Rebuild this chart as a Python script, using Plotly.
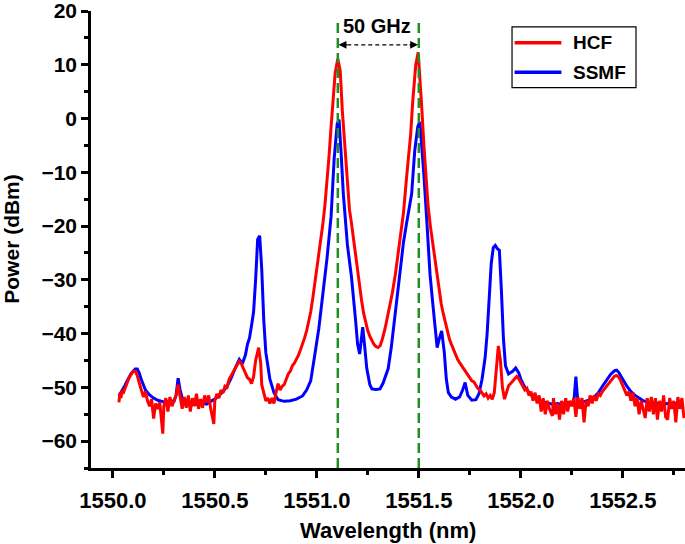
import plotly.graph_objects as go

# ---- data ----
ssmf_wl = [1550.03, 1550.04, 1550.05, 1550.06, 1550.07, 1550.08, 1550.09, 1550.10, 1550.11, 1550.12,
           1550.13, 1550.14, 1550.15, 1550.16, 1550.18, 1550.20, 1550.22, 1550.24, 1550.26, 1550.28,
           1550.30, 1550.31, 1550.32, 1550.33, 1550.34, 1550.36, 1550.38, 1550.40, 1550.42, 1550.44,
           1550.46, 1550.48, 1550.50, 1550.52, 1550.54, 1550.56, 1550.58, 1550.60, 1550.62, 1550.635,
           1550.65, 1550.66, 1550.67, 1550.68, 1550.69, 1550.70, 1550.71, 1550.72, 1550.73, 1550.74,
           1550.75, 1550.76, 1550.77, 1550.79, 1550.81, 1550.84, 1550.87, 1550.90, 1550.93, 1550.95,
           1550.97, 1550.99, 1551.01, 1551.03, 1551.05, 1551.07, 1551.085, 1551.10, 1551.109, 1551.12,
           1551.13, 1551.15, 1551.17, 1551.19, 1551.20, 1551.21, 1551.225, 1551.235, 1551.245, 1551.26,
           1551.27, 1551.29, 1551.31, 1551.325, 1551.34, 1551.35, 1551.365, 1551.385, 1551.405, 1551.425,
           1551.44, 1551.465, 1551.48, 1551.495, 1551.505, 1551.515, 1551.525, 1551.54, 1551.555, 1551.57,
           1551.58, 1551.59, 1551.60, 1551.612, 1551.625, 1551.635, 1551.645, 1551.66, 1551.68, 1551.70,
           1551.715, 1551.727, 1551.74, 1551.76, 1551.78, 1551.795, 1551.81, 1551.825, 1551.835, 1551.845,
           1551.855, 1551.865, 1551.875, 1551.885, 1551.895, 1551.905, 1551.915, 1551.925, 1551.94, 1551.96,
           1551.975, 1551.99, 1552.00, 1552.02, 1552.04, 1552.06, 1552.08, 1552.10, 1552.12, 1552.14,
           1552.16, 1552.18, 1552.20, 1552.22, 1552.24, 1552.26, 1552.27, 1552.275, 1552.28, 1552.30,
           1552.32, 1552.34, 1552.36, 1552.38, 1552.40, 1552.42, 1552.44, 1552.46, 1552.47, 1552.48,
           1552.50, 1552.52, 1552.54, 1552.56, 1552.58, 1552.60, 1552.62, 1552.64, 1552.66, 1552.68,
           1552.70, 1552.72, 1552.74, 1552.76, 1552.78, 1552.80]
ssmf_dbm = [-51.6, -51.0, -50.4, -49.6, -48.8, -48.0, -47.4, -47.0, -46.6, -46.6,
            -47.4, -48.6, -49.6, -50.5, -51.4, -52.0, -52.4, -52.6, -52.8, -52.5,
            -52.6, -51.5, -48.3, -50.5, -52.0, -52.8, -53.2, -53.0, -53.3, -52.9,
            -53.1, -52.6, -52.2, -51.5, -50.8, -49.8, -48.3, -46.4, -44.8, -45.6,
            -44.0, -42.0, -40.8, -38.5, -36.0, -30.0, -22.5, -21.8, -28.0, -37.5,
            -43.5, -46.0, -48.5, -51.0, -52.3, -52.6, -52.5, -52.2, -51.6, -50.5,
            -48.8, -44.0, -39.0, -32.5, -26.0, -18.2, -7.5, -1.0, -0.2, -7.0,
            -14.0, -23.5, -29.5, -37.5, -42.0, -43.8, -38.8, -42.5, -46.5, -49.5,
            -50.3, -50.4, -50.3, -49.2, -47.4, -46.5, -42.6, -36.3, -29.0, -23.0,
            -19.5, -14.0, -6.0, -1.5, -0.6, -5.0, -10.5, -19.5, -29.0, -35.0,
            -39.5, -42.6, -41.0, -39.5, -43.5, -48.5, -51.0, -51.8, -52.2, -51.8,
            -50.5, -49.1, -51.5, -52.4, -52.3, -51.2, -48.5, -44.5, -40.0, -33.0,
            -27.0, -24.0, -23.6, -24.2, -24.5, -32.0, -41.0, -46.0, -47.5, -47.0,
            -46.4, -47.3, -48.5, -50.0, -51.0, -51.8, -52.3, -52.6, -52.8, -53.0,
            -53.2, -53.0, -53.2, -52.8, -52.9, -52.8, -48.0, -50.5, -52.6, -52.8,
            -52.6, -52.3, -51.8, -51.0, -49.8, -48.6, -47.6, -46.9, -46.8, -47.2,
            -48.5, -49.8, -50.8, -51.5, -52.0, -52.5, -52.7, -52.8, -53.0, -52.9,
            -53.1, -53.0, -53.2, -53.0, -53.1, -53.0]

hcf_wl = [1550.03, 1550.035, 1550.04, 1550.045, 1550.05, 1550.06, 1550.07, 1550.08, 1550.09, 1550.10,
          1550.11, 1550.12, 1550.13, 1550.14, 1550.15, 1550.16, 1550.17, 1550.18, 1550.19, 1550.20,
          1550.21, 1550.22, 1550.23, 1550.245, 1550.25, 1550.26, 1550.27, 1550.28, 1550.29, 1550.30,
          1550.31, 1550.32, 1550.33, 1550.34, 1550.35, 1550.36, 1550.37, 1550.38, 1550.39, 1550.40,
          1550.41, 1550.42, 1550.43, 1550.44, 1550.45, 1550.46, 1550.47, 1550.48, 1550.495, 1550.50,
          1550.51, 1550.52, 1550.53, 1550.54, 1550.55, 1550.56, 1550.57, 1550.58, 1550.59, 1550.60,
          1550.61, 1550.62, 1550.63, 1550.64, 1550.65, 1550.66, 1550.67, 1550.68, 1550.69, 1550.70,
          1550.715, 1550.725, 1550.73, 1550.74, 1550.75, 1550.76, 1550.77, 1550.78, 1550.79, 1550.80,
          1550.81, 1550.82, 1550.83, 1550.84, 1550.85, 1550.86, 1550.87, 1550.88, 1550.89, 1550.90,
          1550.91, 1550.92, 1550.93, 1550.94, 1550.95, 1550.96, 1550.97, 1550.98, 1550.99, 1551.00,
          1551.01, 1551.02, 1551.03, 1551.04, 1551.05, 1551.06, 1551.07, 1551.08, 1551.09, 1551.103,
          1551.115, 1551.125, 1551.135, 1551.145, 1551.16, 1551.17, 1551.18, 1551.19, 1551.20, 1551.21,
          1551.22, 1551.23, 1551.24, 1551.25, 1551.26, 1551.27, 1551.28, 1551.29, 1551.30, 1551.31,
          1551.32, 1551.335, 1551.35, 1551.37, 1551.385, 1551.40, 1551.415, 1551.425, 1551.44, 1551.45,
          1551.46, 1551.47, 1551.485, 1551.497, 1551.505, 1551.514, 1551.525, 1551.536, 1551.545, 1551.557,
          1551.57, 1551.58, 1551.59, 1551.60, 1551.61, 1551.62, 1551.63, 1551.64, 1551.65, 1551.66,
          1551.67, 1551.68, 1551.69, 1551.70, 1551.71, 1551.72, 1551.73, 1551.74, 1551.75, 1551.76,
          1551.77, 1551.78, 1551.79, 1551.80, 1551.81, 1551.82, 1551.83, 1551.84, 1551.85, 1551.86,
          1551.87, 1551.88, 1551.89, 1551.90, 1551.91, 1551.92, 1551.93, 1551.94, 1551.95, 1551.96,
          1551.97, 1551.98, 1551.99, 1552.00, 1552.01, 1552.02, 1552.03, 1552.04, 1552.05, 1552.06,
          1552.07, 1552.08, 1552.09, 1552.10, 1552.11, 1552.12, 1552.13, 1552.14, 1552.155, 1552.16,
          1552.17, 1552.18, 1552.19, 1552.20, 1552.21, 1552.22, 1552.23, 1552.24, 1552.25, 1552.26,
          1552.27, 1552.28, 1552.29, 1552.30, 1552.31, 1552.32, 1552.33, 1552.34, 1552.35, 1552.36,
          1552.37, 1552.38, 1552.39, 1552.40, 1552.41, 1552.42, 1552.43, 1552.44, 1552.45, 1552.46,
          1552.47, 1552.48, 1552.49, 1552.50, 1552.51, 1552.52, 1552.53, 1552.54, 1552.55, 1552.56,
          1552.57, 1552.58, 1552.59, 1552.60, 1552.61, 1552.62, 1552.63, 1552.64, 1552.65, 1552.66,
          1552.67, 1552.68, 1552.69, 1552.70, 1552.71, 1552.72, 1552.73, 1552.74, 1552.75, 1552.76,
          1552.77, 1552.78, 1552.79, 1552.80]
hcf_dbm = [-52.8, -51.0, -52.0, -50.5, -51.2, -50.0, -49.2, -48.2, -47.6, -47.0,
           -47.0, -47.8, -49.2, -50.5, -51.8, -50.8, -52.5, -53.5, -52.2, -55.8,
           -53.0, -54.0, -52.8, -58.6, -53.5, -52.0, -54.5, -51.8, -53.5, -52.5,
           -51.5, -49.5, -52.0, -54.0, -51.8, -53.8, -51.5, -54.5, -52.0, -53.5,
           -51.2, -54.0, -52.2, -53.8, -51.5, -52.8, -51.5, -54.0, -56.8, -52.5,
           -51.2, -52.0, -50.5, -51.0, -49.8, -50.0, -48.5, -47.8, -47.0, -46.5,
           -45.8, -45.2, -45.6, -46.5, -47.5, -48.2, -48.5, -49.3, -48.0, -45.0,
           -42.6, -45.5, -49.5, -51.0, -52.5, -52.0, -53.0, -52.0, -53.0, -51.0,
           -49.3, -50.5, -49.8, -49.5, -48.5, -47.5, -47.0, -46.0, -45.5, -44.8,
           -44.0, -43.0, -42.0, -40.8, -39.5, -38.0, -36.0, -33.5, -30.8, -28.0,
           -25.2, -22.5, -19.5, -16.0, -12.0, -7.0, -1.5, 4.0, 8.5, 11.1,
           8.8, 1.5, -4.0, -8.0, -16.9, -19.5, -22.5, -25.5, -28.5, -31.5,
           -34.0, -36.3, -38.0, -39.5, -40.5, -41.3, -42.0, -42.4, -42.6, -42.3,
           -41.2, -39.0, -36.3, -32.5, -29.0, -25.0, -20.5, -17.5, -11.0, -7.4,
           -3.0, 3.0, 10.0, 12.3, 8.0, 2.3, -5.0, -11.8, -16.0, -20.1,
           -23.5, -26.5, -29.5, -32.0, -34.5, -36.3, -38.0, -39.5, -41.0, -42.0,
           -43.0, -44.0, -44.8, -45.4, -46.0, -46.6, -47.2, -47.8, -48.3, -48.8,
           -49.0, -49.6, -50.2, -50.5, -51.0, -51.6, -51.2, -52.0, -51.5, -52.2,
           -51.0, -46.5, -42.3, -45.0, -50.0, -52.2, -51.0, -49.7, -49.3, -48.8,
           -48.3, -48.0, -48.4, -49.0, -49.8, -50.5, -50.2, -51.5, -50.8, -52.5,
           -51.0, -53.0, -51.5, -54.5, -52.0, -55.0, -52.5, -54.0, -55.3, -52.0,
           -55.0, -53.0, -56.0, -52.5, -55.0, -52.0, -54.5, -52.5, -53.5, -52.0,
           -55.5, -51.8, -54.0, -52.0, -56.5, -52.5, -53.5, -51.5, -53.0, -51.5,
           -52.5, -51.2, -51.5, -50.8, -50.3, -49.8, -49.2, -48.7, -48.2, -47.9,
           -47.8, -48.1, -48.8, -49.6, -50.4, -51.5, -50.8, -52.5, -51.0, -53.5,
           -52.0, -55.0, -52.5, -54.0, -55.7, -52.0, -54.5, -51.8, -55.0, -52.0,
           -56.0, -52.5, -54.5, -51.5, -55.5, -56.0, -52.0, -54.0, -52.5, -56.5,
           -51.8, -54.0, -52.0, -55.7]

channel_wl = [1551.103, 1551.50]
spacing_label = "50 GHz"
legend_names = ["HCF", "SSMF"]
x_tickvals = [1550.0, 1550.5, 1551.0, 1551.5, 1552.0, 1552.5]
y_tickvals = [-60, -50, -40, -30, -20, -10, 0, 10, 20]

FONT = "Liberation Sans, Arial, sans-serif"
RED = "#ff0000"
BLUE = "#0000ff"
GREEN = "#1f8f1f"

fig = go.Figure()
fig.add_trace(go.Scatter(x=ssmf_wl, y=ssmf_dbm, mode="lines", name=legend_names[1],
                         line=dict(color=BLUE, width=3), showlegend=False))
fig.add_trace(go.Scatter(x=hcf_wl, y=hcf_dbm, mode="lines", name=legend_names[0],
                         line=dict(color=RED, width=3), showlegend=False))

# green dashed channel markers
for wl in channel_wl:
    fig.add_shape(type="line", x0=wl, x1=wl, y0=-65, y1=17.8, xref="x", yref="y",
                  line=dict(color=GREEN, width=2.5, dash="10px,5px"), layer="above")

# dashed double arrow between channels
arrow_y = 13.7
fig.add_shape(type="line", x0=channel_wl[0] + 0.012, x1=channel_wl[1] - 0.012, y0=arrow_y, y1=arrow_y,
              line=dict(color="black", width=1.2, dash="4px,3px"), layer="above")
fig.add_annotation(x=channel_wl[0] + 0.004, y=arrow_y, ax=10, ay=0, text="", showarrow=True,
                   arrowhead=2, arrowsize=1.3, arrowwidth=1.2, arrowcolor="black")
fig.add_annotation(x=channel_wl[1] - 0.004, y=arrow_y, ax=-10, ay=0, text="", showarrow=True,
                   arrowhead=2, arrowsize=1.3, arrowwidth=1.2, arrowcolor="black")
fig.add_annotation(x=1551.296, y=17.2, text="<b>" + spacing_label + "</b>",
                   showarrow=False, font=dict(family=FONT, size=20, color="black"))

# legend box (drawn in paper coordinates)
fig.add_shape(type="rect", xref="paper", yref="paper", x0=0.7088, x1=0.9175, y0=0.8322, y1=0.9651,
              line=dict(color="black", width=1.2), fillcolor="white", layer="above")
for name, col, yy in [(legend_names[0], RED, 0.9303), (legend_names[1], BLUE, 0.8662)]:
    fig.add_shape(type="line", xref="paper", yref="paper", x0=0.7131, x1=0.7919, y0=yy, y1=yy,
                  line=dict(color=col, width=3.5), layer="above")
    fig.add_annotation(xref="paper", yref="paper", x=0.8081, y=yy, xanchor="left", yanchor="middle",
                       text="<b>" + name + "</b>", showarrow=False,
                       font=dict(family=FONT, size=19, color="black"))

# axis titles
fig.add_annotation(xref="paper", yref="paper", x=0.5, y=-0.1373, xanchor="center", yanchor="middle",
                   text="<b>Wavelength (nm)</b>", showarrow=False,
                   font=dict(family=FONT, size=22, color="black"))
fig.add_annotation(xref="paper", yref="paper", x=-0.1330, y=0.5017, xanchor="center", yanchor="middle",
                   text="<b>Power (dBm)</b>", showarrow=False, textangle=-90,
                   font=dict(family=FONT, size=21, color="black"))

axis_common = dict(showline=True, linecolor="black", linewidth=2.5, ticks="outside",
                   tickwidth=2.5, tickcolor="black", showgrid=False, zeroline=False,
                   mirror=False, automargin=False, ticklabeloverflow="allow")

fig.update_xaxes(range=[1549.893, 1552.805], tickvals=x_tickvals,
                 ticktext=["<b>%.1f</b>" % v for v in x_tickvals], ticklen=7, ticklabelstandoff=4,
                 tickfont=dict(family=FONT, size=22, color="black"),
                 minor=dict(dtick=0.25, tick0=1550.0, ticklen=4, tickwidth=2.5, tickcolor="black", ticks="outside"),
                 **axis_common)
fig.update_yaxes(range=[-65, 20], tickvals=y_tickvals,
                 ticktext=["<b>%s</b>" % (str(v).replace("-", "\u2212")) for v in y_tickvals], ticklen=7,
                 tickfont=dict(family=FONT, size=21, color="black"),
                 minor=dict(dtick=5, tick0=-65, ticklen=4, tickwidth=2.5, tickcolor="black", ticks="outside"),
                 **axis_common)

fig.update_layout(
    width=685, height=544,
    margin=dict(l=91, r=0, t=11, b=76),
    paper_bgcolor="white", plot_bgcolor="white",
    showlegend=False,
)

fig.write_html("out.html", config={"displayModeBar": False},
               post_script="document.body.style.margin='0';document.body.style.padding='0';"
                           "document.body.style.overflow='hidden';")
